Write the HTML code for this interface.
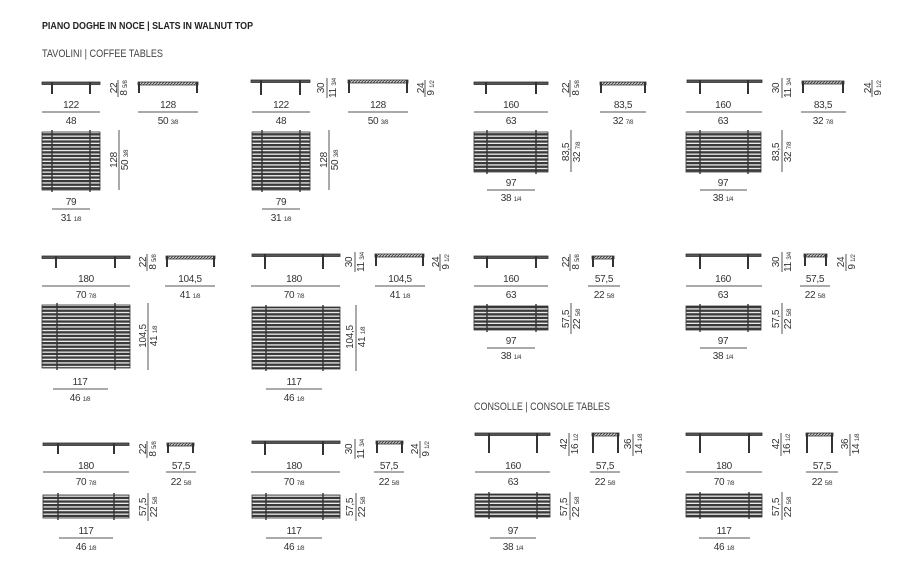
<!DOCTYPE html>
<html><head><meta charset="utf-8"><style>
html,body{margin:0;padding:0;background:#fff;}
svg{display:block;}
text{font-family:"Liberation Sans Narrow","Liberation Sans",sans-serif;fill:#333;font-size:10px;letter-spacing:-0.3px;}
.f{font-size:6px;}
.h{font-weight:bold;font-size:10.5px;fill:#222;letter-spacing:0;}
.s{font-size:11px;fill:#444;letter-spacing:0;}
.bar{fill:#555;stroke:#333;stroke-width:.8;}
.leg{fill:#333;}
.hb{fill:url(#hatch);stroke:#333;stroke-width:.8;}
.pl{fill:url(#slats);stroke:#333;stroke-width:.8;}
.dl{stroke:#555;stroke-width:1;}
</style></head><body>
<svg width="900" height="573" viewBox="0 0 900 573" xmlns="http://www.w3.org/2000/svg">
<defs>
<pattern id="slats" patternUnits="userSpaceOnUse" width="10" height="3.6"><rect width="10" height="3.6" fill="#eee"/><rect width="10" height="2.3" fill="#3a3a3a"/></pattern>
<pattern id="hatch" patternUnits="userSpaceOnUse" width="3" height="3"><rect width="3" height="3" fill="#ccc"/><path d="M0 3L3 0" stroke="#333" stroke-width=".8"/></pattern>
</defs>
<text x="42" y="29" class="h" textLength="211" lengthAdjust="spacingAndGlyphs">PIANO DOGHE IN NOCE | SLATS IN WALNUT TOP</text>
<text x="42" y="57" class="s" textLength="121" lengthAdjust="spacingAndGlyphs">TAVOLINI | COFFEE TABLES</text>
<text x="474" y="410" class="s" textLength="136" lengthAdjust="spacingAndGlyphs">CONSOLLE | CONSOLE TABLES</text>

<!-- ROW 1 COL 1 -->
<rect class="bar" x="42" y="82" width="58" height="2.5"/><rect class="leg" x="51" y="82" width="2" height="12"/><rect class="leg" x="89" y="82" width="2" height="12"/>
<text transform="translate(117,88) rotate(-90)" text-anchor="middle">22</text><line class="dl" x1="118" y1="80" x2="118" y2="97"/><text transform="translate(127,88) rotate(-90)" text-anchor="middle">8 <tspan class="f">5/8</tspan></text>
<rect class="hb" x="138" y="82" width="60" height="3"/><rect class="leg" x="138" y="82" width="2" height="11"/><rect class="leg" x="196" y="82" width="2" height="11"/>
<text x="71" y="108" text-anchor="middle">122</text><line class="dl" x1="42" y1="112" x2="100" y2="112"/><text x="71" y="124" text-anchor="middle">48</text>
<text x="168" y="108" text-anchor="middle">128</text><line class="dl" x1="138" y1="112" x2="198" y2="112"/><text x="168" y="124" text-anchor="middle">50 <tspan class="f">3/8</tspan></text>
<rect class="pl" x="42" y="132" width="58" height="58"/><rect class="leg" x="51" y="130" width="2" height="62" opacity=".7"/><rect class="leg" x="89" y="130" width="2" height="62" opacity=".7"/>
<text transform="translate(117,160) rotate(-90)" text-anchor="middle">128</text><line class="dl" x1="119" y1="130" x2="119" y2="190"/><text transform="translate(128,160) rotate(-90)" text-anchor="middle">50 <tspan class="f">3/8</tspan></text>
<text x="71" y="205" text-anchor="middle">79</text><line class="dl" x1="52" y1="209" x2="90" y2="209"/><text x="71" y="221" text-anchor="middle">31 <tspan class="f">1/8</tspan></text>

<!-- ROW 1 COL 2 -->
<rect class="bar" x="251" y="80" width="59" height="2.5"/><rect class="leg" x="260" y="80" width="2" height="15"/><rect class="leg" x="299" y="80" width="2" height="15"/>
<text transform="translate(324,88) rotate(-90)" text-anchor="middle">30</text><line class="dl" x1="327" y1="78" x2="327" y2="98"/><text transform="translate(336,88) rotate(-90)" text-anchor="middle">11 <tspan class="f">3/4</tspan></text>
<rect class="hb" x="348" y="80" width="60" height="3"/><rect class="leg" x="348" y="80" width="2" height="13"/><rect class="leg" x="406" y="80" width="2" height="13"/>
<text transform="translate(424,88) rotate(-90)" text-anchor="middle">24</text><line class="dl" x1="425" y1="80" x2="425" y2="97"/><text transform="translate(434,88) rotate(-90)" text-anchor="middle">9 <tspan class="f">1/2</tspan></text>
<text x="281" y="108" text-anchor="middle">122</text><line class="dl" x1="252" y1="112" x2="310" y2="112"/><text x="281" y="124" text-anchor="middle">48</text>
<text x="378" y="108" text-anchor="middle">128</text><line class="dl" x1="348" y1="112" x2="408" y2="112"/><text x="378" y="124" text-anchor="middle">50 <tspan class="f">3/8</tspan></text>
<rect class="pl" x="252" y="132" width="58" height="58"/><rect class="leg" x="261" y="130" width="2" height="62" opacity=".7"/><rect class="leg" x="299" y="130" width="2" height="62" opacity=".7"/>
<text transform="translate(327,160) rotate(-90)" text-anchor="middle">128</text><line class="dl" x1="329" y1="130" x2="329" y2="190"/><text transform="translate(338,160) rotate(-90)" text-anchor="middle">50 <tspan class="f">3/8</tspan></text>
<text x="281" y="205" text-anchor="middle">79</text><line class="dl" x1="262" y1="209" x2="300" y2="209"/><text x="281" y="221" text-anchor="middle">31 <tspan class="f">1/8</tspan></text>

<!-- ROW 1 COL 3 -->
<rect class="bar" x="474" y="82" width="74" height="2.5"/><rect class="leg" x="485" y="82" width="2" height="12"/><rect class="leg" x="535" y="82" width="2" height="12"/>
<text transform="translate(569,88) rotate(-90)" text-anchor="middle">22</text><line class="dl" x1="570" y1="80" x2="570" y2="97"/><text transform="translate(579,88) rotate(-90)" text-anchor="middle">8 <tspan class="f">5/8</tspan></text>
<rect class="hb" x="600" y="82" width="46" height="3"/><rect class="leg" x="600" y="82" width="2" height="11"/><rect class="leg" x="644" y="82" width="2" height="11"/>
<text x="511" y="108" text-anchor="middle">160</text><line class="dl" x1="474" y1="112" x2="548" y2="112"/><text x="511" y="124" text-anchor="middle">63</text>
<text x="623" y="108" text-anchor="middle">83,5</text><line class="dl" x1="600" y1="112" x2="646" y2="112"/><text x="623" y="124" text-anchor="middle">32 <tspan class="f">7/8</tspan></text>
<rect class="pl" x="474" y="132" width="74" height="40"/><rect class="leg" x="486" y="130" width="2" height="44" opacity=".7"/><rect class="leg" x="535" y="130" width="2" height="44" opacity=".7"/>
<text transform="translate(569,152) rotate(-90)" text-anchor="middle">83,5</text><line class="dl" x1="571" y1="130" x2="571" y2="172"/><text transform="translate(580,152) rotate(-90)" text-anchor="middle">32 <tspan class="f">7/8</tspan></text>
<text x="511" y="186" text-anchor="middle">97</text><line class="dl" x1="487" y1="190" x2="535" y2="190"/><text x="511" y="201" text-anchor="middle">38 <tspan class="f">1/4</tspan></text>

<!-- ROW 1 COL 4 -->
<rect class="bar" x="687" y="80" width="75" height="2.5"/><rect class="leg" x="699" y="80" width="2" height="14"/><rect class="leg" x="747" y="80" width="2" height="14"/>
<text transform="translate(779,88) rotate(-90)" text-anchor="middle">30</text><line class="dl" x1="782" y1="78" x2="782" y2="98"/><text transform="translate(791,88) rotate(-90)" text-anchor="middle">11 <tspan class="f">3/4</tspan></text>
<rect class="hb" x="802" y="81" width="42" height="3"/><rect class="leg" x="802" y="81" width="2" height="12"/><rect class="leg" x="842" y="81" width="2" height="12"/>
<text transform="translate(871,88) rotate(-90)" text-anchor="middle">24</text><line class="dl" x1="872" y1="80" x2="872" y2="97"/><text transform="translate(881,88) rotate(-90)" text-anchor="middle">9 <tspan class="f">1/2</tspan></text>
<text x="723" y="108" text-anchor="middle">160</text><line class="dl" x1="686" y1="112" x2="762" y2="112"/><text x="723" y="124" text-anchor="middle">63</text>
<text x="823" y="108" text-anchor="middle">83,5</text><line class="dl" x1="801" y1="112" x2="846" y2="112"/><text x="823" y="124" text-anchor="middle">32 <tspan class="f">7/8</tspan></text>
<rect class="pl" x="686" y="132" width="75" height="40"/><rect class="leg" x="699" y="130" width="2" height="44" opacity=".7"/><rect class="leg" x="747" y="130" width="2" height="44" opacity=".7"/>
<text transform="translate(779,152) rotate(-90)" text-anchor="middle">83,5</text><line class="dl" x1="782" y1="130" x2="782" y2="172"/><text transform="translate(791,152) rotate(-90)" text-anchor="middle">32 <tspan class="f">7/8</tspan></text>
<text x="723" y="186" text-anchor="middle">97</text><line class="dl" x1="700" y1="190" x2="747" y2="190"/><text x="723" y="201" text-anchor="middle">38 <tspan class="f">1/4</tspan></text>

<!-- ROW 2 COL 1 -->
<rect class="bar" x="42" y="256" width="88" height="2.5"/><rect class="leg" x="55" y="256" width="2" height="12"/><rect class="leg" x="114" y="256" width="2" height="12"/>
<text transform="translate(146,262) rotate(-90)" text-anchor="middle">22</text><line class="dl" x1="147" y1="254" x2="147" y2="271"/><text transform="translate(156,262) rotate(-90)" text-anchor="middle">8 <tspan class="f">5/8</tspan></text>
<rect class="hb" x="166" y="256" width="49" height="3"/><rect class="leg" x="166" y="256" width="2" height="11"/><rect class="leg" x="213" y="256" width="2" height="11"/>
<text x="86" y="282" text-anchor="middle">180</text><line class="dl" x1="42" y1="286" x2="130" y2="286"/><text x="86" y="298" text-anchor="middle">70 <tspan class="f">7/8</tspan></text>
<text x="190" y="282" text-anchor="middle">104,5</text><line class="dl" x1="165" y1="286" x2="215" y2="286"/><text x="190" y="298" text-anchor="middle">41 <tspan class="f">1/8</tspan></text>
<rect class="pl" x="42" y="305" width="88" height="63"/><rect class="leg" x="56" y="303" width="2" height="67" opacity=".7"/><rect class="leg" x="114" y="303" width="2" height="67" opacity=".7"/>
<text transform="translate(146,336) rotate(-90)" text-anchor="middle">104,5</text><line class="dl" x1="148" y1="303" x2="148" y2="370"/><text transform="translate(157,336) rotate(-90)" text-anchor="middle">41 <tspan class="f">1/8</tspan></text>
<text x="80" y="385" text-anchor="middle">117</text><line class="dl" x1="53" y1="389" x2="108" y2="389"/><text x="80" y="401" text-anchor="middle">46 <tspan class="f">1/8</tspan></text>

<!-- ROW 2 COL 2 -->
<rect class="bar" x="252" y="254" width="88" height="2.5"/><rect class="leg" x="264" y="254" width="2" height="15"/><rect class="leg" x="322" y="254" width="2" height="15"/>
<text transform="translate(352,262) rotate(-90)" text-anchor="middle">30</text><line class="dl" x1="355" y1="252" x2="355" y2="272"/><text transform="translate(364,262) rotate(-90)" text-anchor="middle">11 <tspan class="f">3/4</tspan></text>
<rect class="hb" x="375" y="254" width="49" height="3"/><rect class="leg" x="375" y="254" width="2" height="12"/><rect class="leg" x="422" y="254" width="2" height="12"/>
<text transform="translate(439,262) rotate(-90)" text-anchor="middle">24</text><line class="dl" x1="440" y1="254" x2="440" y2="271"/><text transform="translate(449,262) rotate(-90)" text-anchor="middle">9 <tspan class="f">1/2</tspan></text>
<text x="294" y="282" text-anchor="middle">180</text><line class="dl" x1="251" y1="286" x2="340" y2="286"/><text x="294" y="298" text-anchor="middle">70 <tspan class="f">7/8</tspan></text>
<text x="400" y="282" text-anchor="middle">104,5</text><line class="dl" x1="375" y1="286" x2="425" y2="286"/><text x="400" y="298" text-anchor="middle">41 <tspan class="f">1/8</tspan></text>
<rect class="pl" x="252" y="307" width="88" height="62"/><rect class="leg" x="265" y="305" width="2" height="66" opacity=".7"/><rect class="leg" x="322" y="305" width="2" height="66" opacity=".7"/>
<text transform="translate(353,337) rotate(-90)" text-anchor="middle">104,5</text><line class="dl" x1="356" y1="305" x2="356" y2="371"/><text transform="translate(365,337) rotate(-90)" text-anchor="middle">41 <tspan class="f">1/8</tspan></text>
<text x="294" y="385" text-anchor="middle">117</text><line class="dl" x1="266" y1="389" x2="322" y2="389"/><text x="294" y="401" text-anchor="middle">46 <tspan class="f">1/8</tspan></text>

<!-- ROW 2 COL 3 -->
<rect class="bar" x="474" y="256" width="74" height="2.5"/><rect class="leg" x="486" y="256" width="2" height="12"/><rect class="leg" x="535" y="256" width="2" height="12"/>
<text transform="translate(569,262) rotate(-90)" text-anchor="middle">22</text><line class="dl" x1="570" y1="254" x2="570" y2="271"/><text transform="translate(579,262) rotate(-90)" text-anchor="middle">8 <tspan class="f">5/8</tspan></text>
<rect class="hb" x="592" y="256" width="22" height="3"/><rect class="leg" x="592" y="256" width="2" height="11"/><rect class="leg" x="612" y="256" width="2" height="11"/>
<text x="511" y="282" text-anchor="middle">160</text><line class="dl" x1="474" y1="286" x2="548" y2="286"/><text x="511" y="298" text-anchor="middle">63</text>
<text x="604" y="282" text-anchor="middle">57,5</text><line class="dl" x1="588" y1="286" x2="620" y2="286"/><text x="604" y="298" text-anchor="middle">22 <tspan class="f">5/8</tspan></text>
<rect class="pl" x="474" y="306" width="74" height="24"/><rect class="leg" x="486" y="304" width="2" height="28" opacity=".7"/><rect class="leg" x="535" y="304" width="2" height="28" opacity=".7"/>
<text transform="translate(569,319) rotate(-90)" text-anchor="middle">57,5</text><line class="dl" x1="571" y1="303" x2="571" y2="334"/><text transform="translate(580,319) rotate(-90)" text-anchor="middle">22 <tspan class="f">5/8</tspan></text>
<text x="511" y="344" text-anchor="middle">97</text><line class="dl" x1="487" y1="348" x2="535" y2="348"/><text x="511" y="359" text-anchor="middle">38 <tspan class="f">1/4</tspan></text>

<!-- ROW 2 COL 4 -->
<rect class="bar" x="686" y="254" width="75" height="2.5"/><rect class="leg" x="699" y="254" width="2" height="15"/><rect class="leg" x="747" y="254" width="2" height="15"/>
<text transform="translate(779,262) rotate(-90)" text-anchor="middle">30</text><line class="dl" x1="782" y1="252" x2="782" y2="272"/><text transform="translate(791,262) rotate(-90)" text-anchor="middle">11 <tspan class="f">3/4</tspan></text>
<rect class="hb" x="804" y="254" width="23" height="3"/><rect class="leg" x="804" y="254" width="2" height="12"/><rect class="leg" x="825" y="254" width="2" height="12"/>
<text transform="translate(844,262) rotate(-90)" text-anchor="middle">24</text><line class="dl" x1="846" y1="254" x2="846" y2="271"/><text transform="translate(855,262) rotate(-90)" text-anchor="middle">9 <tspan class="f">1/2</tspan></text>
<text x="723" y="282" text-anchor="middle">160</text><line class="dl" x1="686" y1="286" x2="762" y2="286"/><text x="723" y="298" text-anchor="middle">63</text>
<text x="815" y="282" text-anchor="middle">57,5</text><line class="dl" x1="800" y1="286" x2="830" y2="286"/><text x="815" y="298" text-anchor="middle">22 <tspan class="f">5/8</tspan></text>
<rect class="pl" x="686" y="306" width="75" height="24"/><rect class="leg" x="699" y="304" width="2" height="28" opacity=".7"/><rect class="leg" x="747" y="304" width="2" height="28" opacity=".7"/>
<text transform="translate(779,319) rotate(-90)" text-anchor="middle">57,5</text><line class="dl" x1="782" y1="303" x2="782" y2="334"/><text transform="translate(791,319) rotate(-90)" text-anchor="middle">22 <tspan class="f">5/8</tspan></text>
<text x="723" y="344" text-anchor="middle">97</text><line class="dl" x1="700" y1="348" x2="747" y2="348"/><text x="723" y="359" text-anchor="middle">38 <tspan class="f">1/4</tspan></text>

<!-- ROW 3 COL 1 -->
<rect class="bar" x="43" y="443" width="86" height="2.5"/><rect class="leg" x="57" y="443" width="2" height="11"/><rect class="leg" x="113" y="443" width="2" height="11"/>
<text transform="translate(146,449) rotate(-90)" text-anchor="middle">22</text><line class="dl" x1="147" y1="441" x2="147" y2="458"/><text transform="translate(156,449) rotate(-90)" text-anchor="middle">8 <tspan class="f">5/8</tspan></text>
<rect class="hb" x="167" y="443" width="27" height="3"/><rect class="leg" x="167" y="443" width="2" height="10"/><rect class="leg" x="192" y="443" width="2" height="10"/>
<text x="86" y="469" text-anchor="middle">180</text><line class="dl" x1="43" y1="472" x2="129" y2="472"/><text x="86" y="485" text-anchor="middle">70 <tspan class="f">7/8</tspan></text>
<text x="181" y="469" text-anchor="middle">57,5</text><line class="dl" x1="166" y1="472" x2="196" y2="472"/><text x="181" y="485" text-anchor="middle">22 <tspan class="f">5/8</tspan></text>
<rect class="pl" x="43" y="495" width="86" height="23"/><rect class="leg" x="57" y="493" width="2" height="27" opacity=".7"/><rect class="leg" x="113" y="493" width="2" height="27" opacity=".7"/>
<text transform="translate(146,507) rotate(-90)" text-anchor="middle">57,5</text><line class="dl" x1="148" y1="493" x2="148" y2="521"/><text transform="translate(157,507) rotate(-90)" text-anchor="middle">22 <tspan class="f">5/8</tspan></text>
<text x="86" y="534" text-anchor="middle">117</text><line class="dl" x1="59" y1="538" x2="113" y2="538"/><text x="86" y="550" text-anchor="middle">46 <tspan class="f">1/8</tspan></text>

<!-- ROW 3 COL 2 -->
<rect class="bar" x="252" y="441" width="88" height="2.5"/><rect class="leg" x="264" y="441" width="2" height="14"/><rect class="leg" x="322" y="441" width="2" height="14"/>
<text transform="translate(352,449) rotate(-90)" text-anchor="middle">30</text><line class="dl" x1="355" y1="439" x2="355" y2="459"/><text transform="translate(364,449) rotate(-90)" text-anchor="middle">11 <tspan class="f">3/4</tspan></text>
<rect class="hb" x="376" y="441" width="27" height="3"/><rect class="leg" x="376" y="441" width="2" height="12"/><rect class="leg" x="401" y="441" width="2" height="12"/>
<text transform="translate(418,449) rotate(-90)" text-anchor="middle">24</text><line class="dl" x1="420" y1="441" x2="420" y2="458"/><text transform="translate(429,449) rotate(-90)" text-anchor="middle">9 <tspan class="f">1/2</tspan></text>
<text x="294" y="469" text-anchor="middle">180</text><line class="dl" x1="251" y1="472" x2="340" y2="472"/><text x="294" y="485" text-anchor="middle">70 <tspan class="f">7/8</tspan></text>
<text x="389" y="469" text-anchor="middle">57,5</text><line class="dl" x1="374" y1="472" x2="404" y2="472"/><text x="389" y="485" text-anchor="middle">22 <tspan class="f">5/8</tspan></text>
<rect class="pl" x="252" y="495" width="88" height="23"/><rect class="leg" x="265" y="493" width="2" height="27" opacity=".7"/><rect class="leg" x="322" y="493" width="2" height="27" opacity=".7"/>
<text transform="translate(353,507) rotate(-90)" text-anchor="middle">57,5</text><line class="dl" x1="356" y1="493" x2="356" y2="521"/><text transform="translate(365,507) rotate(-90)" text-anchor="middle">22 <tspan class="f">5/8</tspan></text>
<text x="294" y="534" text-anchor="middle">117</text><line class="dl" x1="266" y1="538" x2="322" y2="538"/><text x="294" y="550" text-anchor="middle">46 <tspan class="f">1/8</tspan></text>

<!-- ROW 3 COL 3 (console) -->
<rect class="bar" x="475" y="433" width="75" height="2.5"/><rect class="leg" x="488" y="433" width="2" height="20"/><rect class="leg" x="536" y="433" width="2" height="20"/>
<text transform="translate(567,444) rotate(-90)" text-anchor="middle">42</text><line class="dl" x1="569" y1="433" x2="569" y2="456"/><text transform="translate(578,444) rotate(-90)" text-anchor="middle">16 <tspan class="f">1/2</tspan></text>
<rect class="hb" x="592" y="433" width="27" height="3"/><rect class="leg" x="592" y="433" width="2" height="20"/><rect class="leg" x="617" y="433" width="2" height="20"/>
<text transform="translate(631,444) rotate(-90)" text-anchor="middle">36</text><line class="dl" x1="633" y1="434" x2="633" y2="456"/><text transform="translate(642,444) rotate(-90)" text-anchor="middle">14 <tspan class="f">1/8</tspan></text>
<text x="513" y="469" text-anchor="middle">160</text><line class="dl" x1="475" y1="472" x2="550" y2="472"/><text x="513" y="485" text-anchor="middle">63</text>
<text x="605" y="469" text-anchor="middle">57,5</text><line class="dl" x1="590" y1="472" x2="620" y2="472"/><text x="605" y="485" text-anchor="middle">22 <tspan class="f">5/8</tspan></text>
<rect class="pl" x="475" y="494" width="75" height="23"/><rect class="leg" x="488" y="492" width="2" height="27" opacity=".7"/><rect class="leg" x="536" y="492" width="2" height="27" opacity=".7"/>
<text transform="translate(567,507) rotate(-90)" text-anchor="middle">57,5</text><line class="dl" x1="570" y1="492" x2="570" y2="520"/><text transform="translate(579,507) rotate(-90)" text-anchor="middle">22 <tspan class="f">5/8</tspan></text>
<text x="513" y="534" text-anchor="middle">97</text><line class="dl" x1="490" y1="538" x2="536" y2="538"/><text x="513" y="550" text-anchor="middle">38 <tspan class="f">1/4</tspan></text>

<!-- ROW 3 COL 4 (console) -->
<rect class="bar" x="686" y="433" width="76" height="2.5"/><rect class="leg" x="699" y="433" width="2" height="20"/><rect class="leg" x="748" y="433" width="2" height="20"/>
<text transform="translate(779,444) rotate(-90)" text-anchor="middle">42</text><line class="dl" x1="781" y1="433" x2="781" y2="456"/><text transform="translate(790,444) rotate(-90)" text-anchor="middle">16 <tspan class="f">1/2</tspan></text>
<rect class="hb" x="806" y="433" width="27" height="3"/><rect class="leg" x="806" y="433" width="2" height="20"/><rect class="leg" x="831" y="433" width="2" height="20"/>
<text transform="translate(848,444) rotate(-90)" text-anchor="middle">36</text><line class="dl" x1="850" y1="434" x2="850" y2="456"/><text transform="translate(859,444) rotate(-90)" text-anchor="middle">14 <tspan class="f">1/8</tspan></text>
<text x="724" y="469" text-anchor="middle">180</text><line class="dl" x1="686" y1="472" x2="762" y2="472"/><text x="724" y="485" text-anchor="middle">70 <tspan class="f">7/8</tspan></text>
<text x="822" y="469" text-anchor="middle">57,5</text><line class="dl" x1="806" y1="472" x2="838" y2="472"/><text x="822" y="485" text-anchor="middle">22 <tspan class="f">5/8</tspan></text>
<rect class="pl" x="686" y="494" width="76" height="23"/><rect class="leg" x="699" y="492" width="2" height="27" opacity=".7"/><rect class="leg" x="748" y="492" width="2" height="27" opacity=".7"/>
<text transform="translate(779,507) rotate(-90)" text-anchor="middle">57,5</text><line class="dl" x1="782" y1="492" x2="782" y2="520"/><text transform="translate(791,507) rotate(-90)" text-anchor="middle">22 <tspan class="f">5/8</tspan></text>
<text x="724" y="534" text-anchor="middle">117</text><line class="dl" x1="699" y1="538" x2="750" y2="538"/><text x="724" y="550" text-anchor="middle">46 <tspan class="f">1/8</tspan></text>
</svg>
</body></html>
